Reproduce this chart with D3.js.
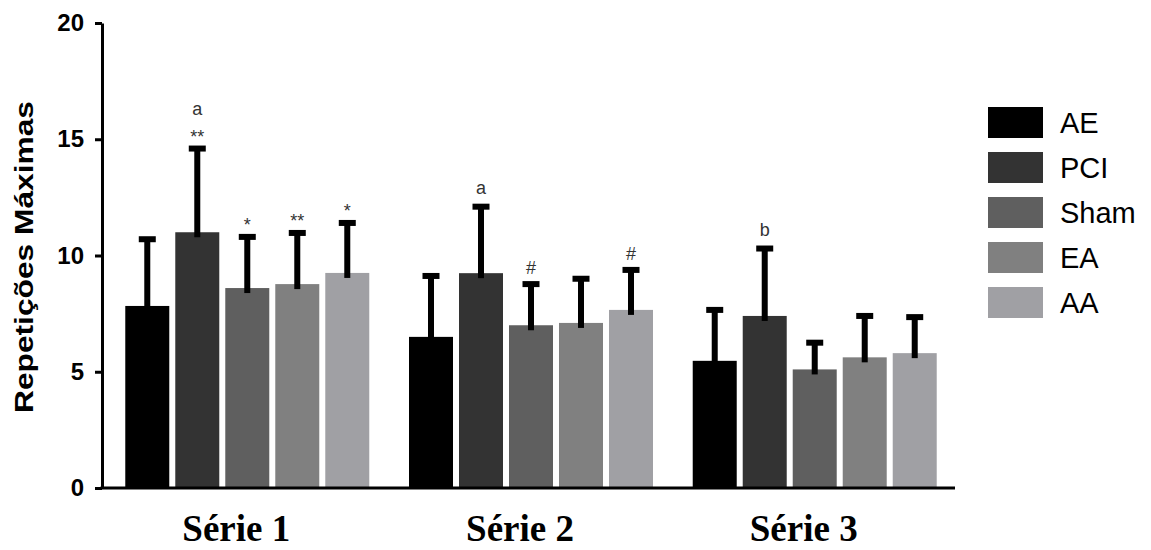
<!DOCTYPE html>
<html>
<head>
<meta charset="utf-8">
<script src="https://cdn.jsdelivr.net/npm/d3@7"></script>
<style>
  body { margin: 0; background: #fff; }
  svg { display: block; }
</style>
</head>
<body>
<svg id="chart" width="1151" height="550"></svg>
<script>
// ---- data ----
const groups = ["Série 1", "Série 2", "Série 3"];
const categories = ["AE", "PCI", "Sham", "EA", "AA"];
const colors = ["#000000", "#333333", "#5f5f5f", "#808080", "#a0a0a4"];
const meansS1 = [7.83, 11.0, 8.6, 8.77, 9.25];
const meansS2 = [6.5, 9.24, 7.0, 7.1, 7.66];
const meansS3 = [5.47, 7.4, 5.1, 5.62, 5.8];
const sdS1 = [2.87, 3.6, 2.2, 2.2, 2.15];
const sdS2 = [2.62, 2.86, 1.77, 1.9, 1.72];
const sdS3 = [2.19, 2.9, 1.15, 1.78, 1.55];
const yTicks = [0, 5, 10, 15, 20];
const annotations = [
  { group: "Série 1", cat: "PCI", labels: ["**", "a"] },
  { group: "Série 1", cat: "Sham", labels: ["*"] },
  { group: "Série 1", cat: "EA", labels: ["**"] },
  { group: "Série 1", cat: "AA", labels: ["*"] },
  { group: "Série 2", cat: "PCI", labels: ["a"] },
  { group: "Série 2", cat: "Sham", labels: ["#"] },
  { group: "Série 2", cat: "AA", labels: ["#"] },
  { group: "Série 3", cat: "PCI", labels: ["b"] }
];

const means = [meansS1, meansS2, meansS3];
const sds = [sdS1, sdS2, sdS3];
const rows = [];
groups.forEach((g, gi) => categories.forEach((c, ci) => {
  rows.push({ group: g, cat: c, mean: means[gi][ci], sd: sds[gi][ci], color: colors[ci] });
}));

const svg = d3.select("#chart");

const y = d3.scaleLinear().domain([0, 20]).range([488, 23]);
const x0 = d3.scaleBand().domain(groups).range([104, 958]).paddingInner(0.14).paddingOuter(0.075);
const x1 = d3.scaleBand().domain(categories).range([0, x0.bandwidth()]).paddingInner(0.12).paddingOuter(0);

// bars
svg.append("g").selectAll("rect").data(rows).join("rect")
  .attr("x", d => x0(d.group) + x1(d.cat))
  .attr("y", d => y(d.mean))
  .attr("width", x1.bandwidth())
  .attr("height", d => y(0) - y(d.mean))
  .attr("fill", d => d.color);

// error bars
const eb = svg.append("g").selectAll("g").data(rows).join("g");
eb.append("rect")
  .attr("x", d => x0(d.group) + x1(d.cat) + x1.bandwidth() / 2 - 3)
  .attr("y", d => y(d.mean + d.sd))
  .attr("width", 6)
  .attr("height", d => y(d.mean) - y(d.mean + d.sd) + 5)
  .attr("fill", "#000");
eb.append("rect")
  .attr("x", d => x0(d.group) + x1(d.cat) + x1.bandwidth() / 2 - 8.5)
  .attr("y", d => y(d.mean + d.sd) - 3)
  .attr("width", 17)
  .attr("height", 6)
  .attr("fill", "#000");

// annotations
const lookup = new Map(rows.map(r => [r.group + "|" + r.cat, r]));
annotations.forEach(a => {
  const r = lookup.get(a.group + "|" + a.cat);
  const cx = x0(r.group) + x1(r.cat) + x1.bandwidth() / 2;
  const top = y(r.mean + r.sd);
  a.labels.forEach((lab, i) => {
    let base;
    if (lab.startsWith("*")) base = top - 6;
    else if (lab === "#") base = top - 10;
    else base = top - 13;
    if (i === 1) base = top - 34;
    svg.append("text")
      .attr("x", cx)
      .attr("y", base)
      .attr("text-anchor", "middle")
      .attr("font-family", "Liberation Sans, Arial, sans-serif")
      .attr("font-size", lab.startsWith("*") ? 18 : 18)
      .attr("fill", "#333")
      .text(lab);
  });
});

// y axis
const yAxis = svg.append("g")
  .attr("transform", "translate(102,0)")
  .call(d3.axisLeft(y).tickValues(yTicks).tickSize(7).tickPadding(11).tickSizeOuter(0));
yAxis.select(".domain").attr("stroke", "#000").attr("stroke-width", 3);
yAxis.selectAll(".tick line").attr("stroke", "#000").attr("stroke-width", 3);
yAxis.selectAll(".tick text")
  .attr("font-family", "Liberation Sans, Arial, sans-serif")
  .attr("font-weight", "bold")
  .attr("font-size", 24)
  .attr("fill", "#000");

// x axis line
svg.append("line")
  .attr("x1", 100.5).attr("x2", 955)
  .attr("y1", y(0)).attr("y2", y(0))
  .attr("stroke", "#000").attr("stroke-width", 3);

// x group labels
svg.append("g").selectAll("text").data(groups).join("text")
  .attr("x", d => x0(d) + x0.bandwidth() / 2 - 11)
  .attr("y", 541)
  .attr("text-anchor", "middle")
  .attr("font-family", "Liberation Serif, Times New Roman, serif")
  .attr("font-weight", "bold")
  .attr("font-size", 37)
  .attr("fill", "#000")
  .text(d => d);

// y title
svg.append("text")
  .attr("transform", "translate(33,257) rotate(-90)")
  .attr("text-anchor", "middle")
  .attr("font-family", "Liberation Sans, Arial, sans-serif")
  .attr("font-weight", "bold")
  .attr("font-size", 25)
  .attr("textLength", 312)
  .attr("lengthAdjust", "spacingAndGlyphs")
  .attr("fill", "#000")
  .text("Repetições Máximas");

// legend
const leg = svg.append("g").selectAll("g").data(categories).join("g")
  .attr("transform", (d, i) => `translate(988,${107 + 45 * i})`);
leg.append("rect").attr("width", 55).attr("height", 31).attr("fill", (d, i) => colors[i]);
leg.append("text")
  .attr("x", 72).attr("y", 15.5)
  .attr("dy", "0.35em")
  .attr("font-family", "Liberation Sans, Arial, sans-serif")
  .attr("font-size", 29)
  .attr("fill", "#000")
  .text(d => d);
</script>
</body>
</html>
